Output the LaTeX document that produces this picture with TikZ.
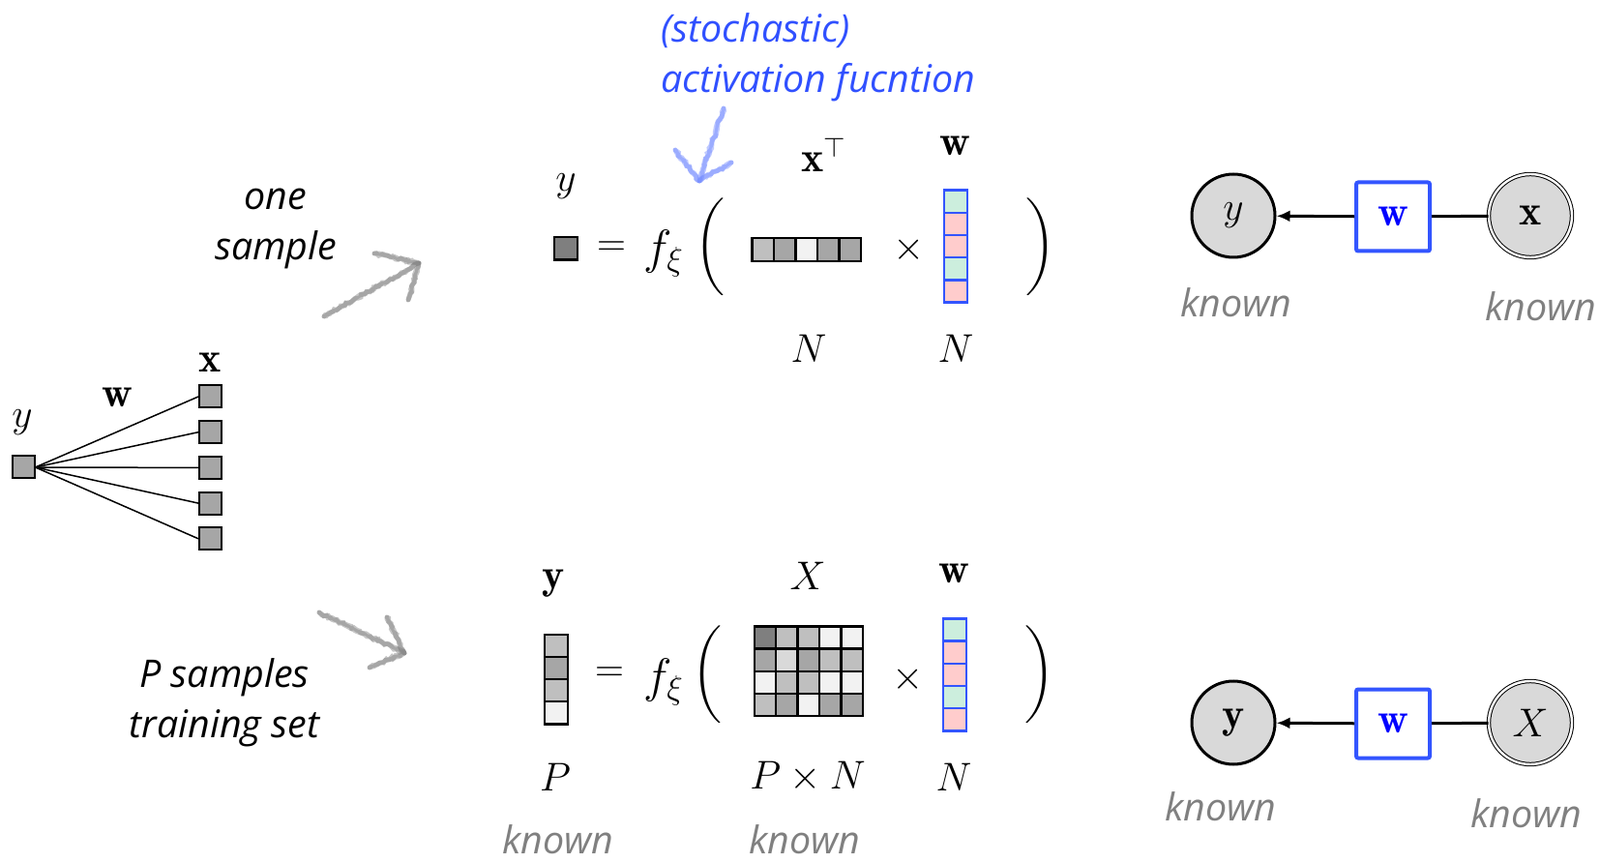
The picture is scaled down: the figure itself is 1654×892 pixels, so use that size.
\documentclass[tikz,border=0pt]{standalone}
\usepackage{amsmath, amssymb}
\usepackage{fontspec}
\newfontfamily\notefont{Open Sans}
\usetikzlibrary{positioning,arrows.meta,decorations.pathmorphing}

\definecolor{greyA}{HTML}{7F7F7F}
\definecolor{greyB}{HTML}{A6A6A6}
\definecolor{greyC}{HTML}{BFBFBF}
\definecolor{greyD}{HTML}{D9D9D9}
\definecolor{greyE}{HTML}{F2F2F2}
\definecolor{wgreen}{HTML}{CCEEDD}
\definecolor{wpink}{HTML}{FFCCCC}
\definecolor{wblue}{HTML}{3355FF}
\definecolor{noteblue}{HTML}{3050FF}

\begin{document}
\begin{tikzpicture}[
  x=0.5pt, y=-0.5pt,
  mth/.style={font=\fontsize{22}{26}\selectfont, inner sep=0pt},
  fxi/.style={font=\fontsize{26}{30}\selectfont, inner sep=0pt},
  paren/.style={font=\fontsize{21}{25}\selectfont, inner sep=0pt},
  note/.style={font=\notefont\itshape\fontsize{19.7}{26}\selectfont, align=center, inner sep=0pt},
  known/.style={note, text=gray},
  unit/.style={draw, line width=1pt, fill=greyB, minimum size=11.5pt, inner sep=0pt},
  edge/.style={line width=0.75pt},
  cell/.style={draw, line width=1.2pt, minimum width=11.2pt, minimum height=11.6pt, inner sep=0pt},
  wcell/.style={draw=wblue, line width=1.2pt, minimum width=11.8pt, minimum height=11.6pt, inner sep=0pt},
  var/.style={circle, draw, line width=1.5pt, fill=greyD, minimum size=43pt, inner sep=0pt,
    font=\fontsize{22}{26}\selectfont},
  obs/.style={var, line width=0.5pt, double, double distance=1.2pt},
  param/.style={rectangle, draw=wblue, line width=2pt, rounded corners=1pt,
    minimum width=38pt, minimum height=35.5pt, font=\fontsize{22}{26}\selectfont, text=blue},
  link/.style={line width=1.5pt},
  sketch/.style={line width=2.4pt, line cap=round, draw opacity=0.45, decorate,
    decoration={random steps, segment length=1.5pt, amplitude=0.7pt}}
]
\useasboundingbox (0,0) rectangle (1654,892);

% Perceptron
\node[unit] (uy) at (24,483) {};
\foreach \i in {0,...,4}
  \node[unit] (ux\i) at (217.5,{410+36.7*\i}) {};
\foreach \i in {0,...,4}
  \draw[edge] (uy.east) -- (ux\i.west);
\node[mth] (uylab) at (23,437) {$y$};
\node[mth] (uwlab) at (121,411) {$\mathbf{w}$};
\node[mth] (uxlab) at (217,375) {$\mathbf{x}$};

% Labels and sketched arrows
\node[note] (onesample) at (285,236) {one\\sample};
\node[note] (psamples) at (232,726) {P samples\\training set};
\node[note, text=noteblue, align=left, anchor=west] (actnote) at (683,59) {(stochastic)\\activation fucntion};

\coordinate (topTail) at (335,327);
\coordinate (topTip) at (433,272);
\coordinate (botTail) at (330,633);
\coordinate (botTip) at (418,675);
\coordinate (actTail) at (748,112);
\coordinate (actTip) at (723,187);
\foreach \k in {1,2}{
  \draw[sketch, gray] (topTail) -- (topTip);
  \draw[sketch, gray] (topTip) -- ++(-46,-10) (topTip) -- ++(-11,38);
  \draw[sketch, gray] (botTail) -- (botTip);
  \draw[sketch, gray] (botTip) -- ++(-18,-37) (botTip) -- ++(-36,15);
  \draw[sketch, wblue!70] (actTail) -- (actTip);
  \draw[sketch, wblue!70] (actTip) -- ++(-25,-32) (actTip) -- ++(33,-19);
}

% Row 1: one sample
\node[mth] (ylab1) at (585,193) {$y$};
\node[cell, fill=greyA, minimum width=12pt, minimum height=11.7pt] (yval1) at (585,257) {};
\node[mth] (eq1) at (632,257) {$=$};
\node[fxi] (f1) at (686,262) {$f_{\xi}$};
\node[paren] (lp1) at (734,255) {$\bigg($};
\foreach \c [count=\i from 0] in {greyC,greyB,greyE,greyB,greyB}
  \node[cell, fill=\c, minimum width=11.25pt, minimum height=12pt] (xt\i) at ({788.75+22.5*\i},258) {};
\node[mth] (xtlab) at (852,160) {$\mathbf{x}^{\top}$};
\node[mth] (times1) at (940,258) {$\times$};
\foreach \c [count=\i from 0] in {wgreen,wpink,wpink,wgreen,wpink}
  \node[wcell, fill=\c] (wa\i) at (988,{208.3+23.2*\i}) {};
\node[mth] (walab) at (987,151) {$\mathbf{w}$};
\node[paren] (rp1) at (1076,255) {$\bigg)$};
\node[mth] (n1) at (836,360) {$N$};
\node[mth] (n2) at (988,360) {$N$};

% Row 2: P samples
\node[mth] (ylab2) at (572,603) {$\mathbf{y}$};
\foreach \c [count=\i from 0] in {greyC,greyB,greyC,greyE}
  \node[cell, fill=\c, minimum width=11.8pt, minimum height=11.55pt] (yv\i) at (575,{667.5+23.1*\i}) {};
\node[mth] (eq2) at (630,697) {$=$};
\node[fxi] (f2) at (686,705) {$f_{\xi}$};
\node[paren] (lp2) at (731,697) {$\bigg($};
\foreach \row [count=\i from 0] in {{greyA,greyC,greyC,greyE,greyE},{greyB,greyD,greyB,greyC,greyC},
    {greyE,greyC,greyC,greyE,greyE},{greyC,greyB,greyE,greyB,greyB}}
  \foreach \c [count=\j from 0] in \row
    \node[cell, fill=\c] (X\i\j) at ({790.9+22.4*\j},{658.9+23.2*\i}) {};
\node[mth] (Xlab) at (835,595) {$X$};
\node[mth] (times2) at (939,702) {$\times$};
\foreach \c [count=\i from 0] in {wgreen,wpink,wpink,wgreen,wpink}
  \node[wcell, fill=\c] (wb\i) at (987,{650.9+23.2*\i}) {};
\node[mth] (wblab) at (986,593) {$\mathbf{w}$};
\node[paren] (rp2) at (1075,697) {$\bigg)$};
\node[mth] (p1) at (574,803) {$P$};
\node[mth] (pn1) at (835,803) {$P\times N$};
\node[mth] (n3) at (986,803) {$N$};
\node[known] (k1) at (577,868) {known};
\node[known] (k2) at (832,868) {known};

% Graphical models
\node[var] (yvar1) at (1275,223) {$y$};
\node[param] (wpar1) at (1440,224) {$\mathbf{w}$};
\node[obs] (xvar1) at (1582,223) {$\mathbf{x}$};
\draw[link, -{Latex[length=7pt, width=6pt]}] (wpar1) -- (yvar1);
\draw[link] (wpar1) -- (xvar1);
\node[known] (k3) at (1278,313) {known};
\node[known] (k4) at (1593,317) {known};

\node[var] (yvar2) at (1275,747) {$\mathbf{y}$};
\node[param] (wpar2) at (1440,748) {$\mathbf{w}$};
\node[obs] (xvar2) at (1582,747) {$X$};
\draw[link, -{Latex[length=7pt, width=6pt]}] (wpar2) -- (yvar2);
\draw[link] (wpar2) -- (xvar2);
\node[known] (k5) at (1262,834) {known};
\node[known] (k6) at (1578,841) {known};
\end{tikzpicture}
\end{document}
